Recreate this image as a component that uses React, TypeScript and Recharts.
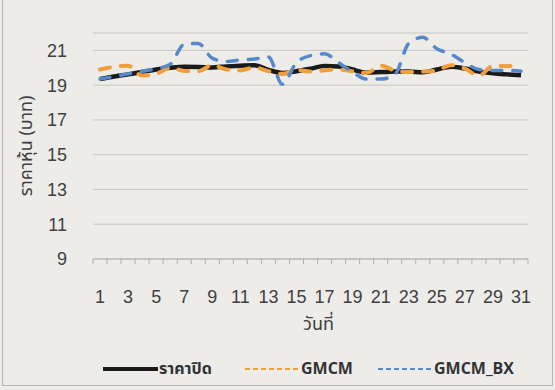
import React from "react";
import { LineChart, Line, XAxis, YAxis, CartesianGrid, Legend } from "recharts";

const days = [1, 2, 3, 4, 5, 6, 7, 8, 9, 10, 11, 12, 13, 14, 15, 16, 17, 18, 19, 20, 21, 22, 23, 24, 25, 26, 27, 28, 29, 30, 31];
const closePrice = [19.35, 19.5, 19.62, 19.76, 19.9, 20.0, 20.06, 20.05, 20.02, 20.08, 20.12, 20.15, 19.88, 19.7, 19.8, 19.95, 20.1, 20.08, 19.9, 19.72, 19.75, 19.78, 19.78, 19.74, 19.9, 20.06, 19.96, 19.78, 19.68, 19.62, 19.57];
const gmcm = [19.9, 20.05, 20.12, 19.55, 19.65, 20.0, 19.82, 19.8, 20.15, 19.9, 19.85, 20.02, 19.8, 19.65, 19.88, 19.78, 19.85, 19.9, 19.8, 19.7, 20.12, 19.85, 19.75, 19.78, 19.85, 20.15, 19.95, 19.55, 20.1, 20.1, 20.1];
const gmcmBx = [19.35, 19.5, 19.65, 19.8, 19.95, 20.2, 21.35, 21.4, 20.55, 20.36, 20.45, 20.5, 20.62, 19.05, 20.3, 20.7, 20.8, 20.3, 19.75, 19.35, 19.35, 19.6, 21.4, 21.75, 21.1, 20.78, 20.3, 19.9, 19.85, 19.85, 19.8];
const yTicks = [9, 11, 13, 15, 17, 19, 21];
const seriesKeys = ["close", "gmcm", "bx"];
const seriesNames = ["ราคาปิด", "GMCM", "GMCM_BX"];
const yTitle = "ราคาหุ้น (บาท)";
const xTitle = "วันที่";

const data = days.map((d, i) => ({ day: d, close: closePrice[i], gmcm: gmcm[i], bx: gmcmBx[i] }));
const xTicks: number[] = [];
days.forEach((d) => { xTicks.push(d - 0.5); xTicks.push(d); });
xTicks.push(days[days.length - 1] + 0.5);

const THAI = "'Noto Sans Thai', 'Noto Sans', 'DejaVu Sans', sans-serif";
const NUM = "'Liberation Sans Narrow', 'Liberation Sans', Arial, sans-serif";
const TEXT = "#404040";

const meta: Record<string, { color: string; dash?: string; w: number; legendDash?: string }> = {
  close: { color: "#1a1a1a", w: 4.5 },
  gmcm: { color: "#f0a03a", dash: "10 11", w: 4, legendDash: "5 3" },
  bx: { color: "#5589cc", dash: "10 11", w: 3.5, legendDash: "5 3" },
};

const XTick = (props: any) => {
  const { x, y, payload } = props;
  const v = payload.value;
  if (!Number.isInteger(v)) {
    return <line x1={x} x2={x} y1={y} y2={y + 5} stroke="#b3b1ad" strokeWidth={1} />;
  }
  if (v % 2 === 1) {
    return (
      <text x={x} y={y + 44} textAnchor="middle" fill={TEXT} fontSize={18} fontFamily={NUM}>
        {v}
      </text>
    );
  }
  return <g />;
};

const LegendContent = (props: any) => {
  const payload = [...(props.payload || [])].sort(
    (a: any, b: any) => seriesKeys.indexOf(a.dataKey) - seriesKeys.indexOf(b.dataKey)
  );
  const lefts = [103, 245, 378];
  return (
    <div style={{ position: "relative", width: 555, height: 22 }}>
      {payload.map((p: any, i: number) => {
        const m = meta[p.dataKey];
        return (
          <div key={i} style={{ position: "absolute", left: lefts[i], top: 0, display: "flex", alignItems: "center", height: 22 }}>
            <svg width={55} height={10}>
              <line x1={0} x2={55} y1={5} y2={5} stroke={m.color} strokeWidth={p.dataKey === "close" ? 4 : 2} strokeDasharray={m.legendDash} />
            </svg>
            <span style={{ fontFamily: THAI, fontWeight: 700, fontSize: 16, color: "#333", marginLeft: 1 }}>{p.value}</span>
          </div>
        );
      })}
    </div>
  );
};

export default function App() {
  return (
    <div style={{ position: "fixed", left: 0, top: 0, width: 555, height: 390, background: "#edece8", overflow: "hidden" }}>
      <div style={{ position: "absolute", left: 2, top: -2, width: 549, height: 386, border: "1px solid #b9b7b3" }} />
      <LineChart width={555} height={390} data={data} margin={{ top: 33, right: 27, left: 0, bottom: 0 }}>
        <CartesianGrid vertical={false} stroke="#c9c7c3" strokeWidth={1} />
        <XAxis
          dataKey="day"
          type="number"
          domain={[0.5, 31.5]}
          ticks={xTicks}
          interval={0}
          tick={<XTick />}
          tickLine={false}
          tickSize={0}
          tickMargin={0}
          height={131}
          axisLine={{ stroke: "#b3b1ad" }}
          label={{ value: xTitle, position: "insideTop", offset: 58, dx: 8, fill: TEXT, fontSize: 18, fontFamily: THAI }}
        />
        <YAxis
          domain={[9, 22]}
          ticks={yTicks}
          interval={0}
          width={93}
          axisLine={false}
          tickLine={false}
          tickSize={0}
          tickMargin={26}
          tick={{ fill: TEXT, fontSize: 18, fontFamily: NUM }}
          label={{ value: yTitle, angle: -90, position: "insideLeft", offset: 26, fill: TEXT, fontSize: 18, fontFamily: THAI, style: { textAnchor: "middle" } }}
        />
        <Legend
          verticalAlign="middle"
          align="center"
          layout="horizontal"
          content={<LegendContent />}
          wrapperStyle={{ position: "absolute", left: 0, top: 358, width: 555 }}
        />
        <Line type="monotone" dataKey="close" name={seriesNames[0]} stroke={meta.close.color} strokeWidth={meta.close.w} dot={false} isAnimationActive={false} />
        <Line type="monotone" dataKey="gmcm" name={seriesNames[1]} stroke={meta.gmcm.color} strokeWidth={meta.gmcm.w} strokeDasharray={meta.gmcm.dash} strokeLinecap="round" dot={false} isAnimationActive={false} />
        <Line type="monotone" dataKey="bx" name={seriesNames[2]} stroke={meta.bx.color} strokeWidth={meta.bx.w} strokeDasharray={meta.bx.dash} strokeLinecap="round" dot={false} isAnimationActive={false} />
      </LineChart>
    </div>
  );
}
